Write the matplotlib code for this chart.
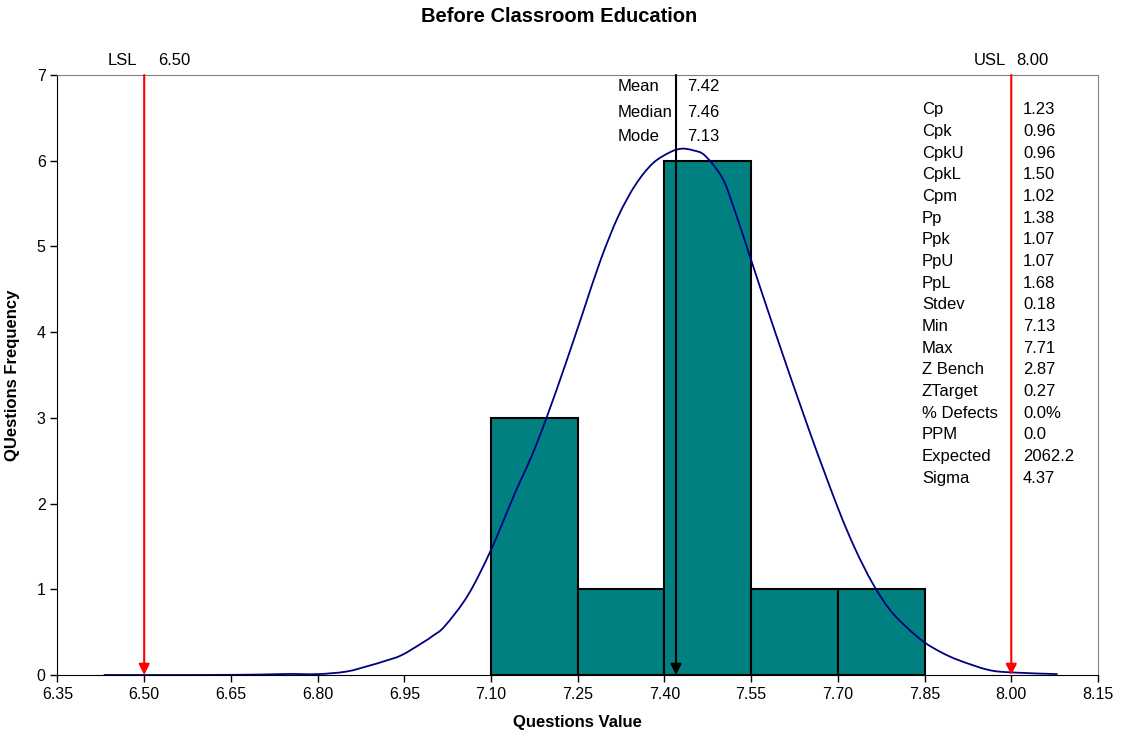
import matplotlib
matplotlib.use('Agg')
import matplotlib.pyplot as plt
from matplotlib.path import Path
from matplotlib.patches import PathPatch
import numpy as np

plt.rcParams['font.family'] = ['Liberation Sans', 'DejaVu Sans']

# histogram bins and counts
binEdges = [7.10, 7.25, 7.40, 7.55, 7.70, 7.85]
binCounts = [3, 1, 6, 1, 1]

# fitted curve
curveX = [6.43, 6.60, 6.70, 6.75, 6.80, 6.85, 6.89, 6.915, 6.945, 6.98, 7.00, 7.02,
          7.06, 7.10, 7.14, 7.17, 7.196, 7.23, 7.26, 7.29, 7.32, 7.35, 7.38, 7.41,
          7.43, 7.45, 7.47, 7.50, 7.52, 7.55, 7.59, 7.65, 7.70, 7.73, 7.76, 7.79,
          7.82, 7.85, 7.88, 7.91, 7.96, 8.00, 8.08]
curveY = [0.0, 0.0, 0.005, 0.012, 0.01, 0.04, 0.11, 0.16, 0.23, 0.37, 0.46, 0.57,
          0.93, 1.46, 2.1, 2.55, 3.0, 3.65, 4.25, 4.85, 5.35, 5.72, 5.97, 6.10,
          6.14, 6.12, 6.06, 5.80, 5.45, 4.84, 4.03, 2.86, 1.95, 1.47, 1.07, 0.76,
          0.55, 0.38, 0.26, 0.17, 0.06, 0.03, 0.01]

lsl = 6.50
usl = 8.00
mean = 7.42

centerNames = ['Mean', 'Median', 'Mode']
centerValues = ['7.42', '7.46', '7.13']

statNames = ['Cp', 'Cpk', 'CpkU', 'CpkL', 'Cpm', 'Pp', 'Ppk', 'PpU', 'PpL', 'Stdev',
             'Min', 'Max', 'Z Bench', 'ZTarget', '% Defects', 'PPM', 'Expected', 'Sigma']
statValues = ['1.23', '0.96', '0.96', '1.50', '1.02', '1.38', '1.07', '1.07', '1.68', '0.18',
              '7.13', '7.71', '2.87', '0.27', '0.0%', '0.0', '2062.2', '4.37']

xTicks = [6.35, 6.50, 6.65, 6.80, 6.95, 7.10, 7.25, 7.40, 7.55, 7.70, 7.85, 8.00, 8.15]


def smoothPath(xs, ys):
    # Excel style smoothed line: catmull-rom segments as cubic bezier
    pts = list(zip(xs, ys))
    verts = [pts[0]]
    codes = [Path.MOVETO]
    n = len(pts)
    for i in range(n - 1):
        p0 = pts[max(i - 1, 0)]
        p1 = pts[i]
        p2 = pts[i + 1]
        p3 = pts[min(i + 2, n - 1)]
        c1 = (p1[0] + (p2[0] - p0[0]) / 6.0, p1[1] + (p2[1] - p0[1]) / 6.0)
        c2 = (p2[0] - (p3[0] - p1[0]) / 6.0, p2[1] - (p3[1] - p1[1]) / 6.0)
        verts += [c1, c2, p2]
        codes += [Path.CURVE4] * 3
    return Path(verts, codes)


fig = plt.figure(figsize=(11.25, 7.38), dpi=100)
ax = fig.add_axes([0.0511, 0.0854, 0.9249, 0.813])

widths = np.diff(binEdges)
ax.bar(binEdges[:-1], binCounts, width=widths, align='edge', color='#008080',
       edgecolor='black', linewidth=1.5, zorder=2)
ax.add_patch(PathPatch(smoothPath(curveX, curveY), facecolor='none',
                       edgecolor='#000080', linewidth=1.3, zorder=3))

# spec limits and mean arrows
for xv, col in [(lsl, 'red'), (usl, 'red'), (mean, 'black')]:
    ax.annotate('', xy=(xv, 0), xytext=(xv, 7),
                arrowprops=dict(arrowstyle='-|>', color=col, lw=1.5,
                                shrinkA=0, shrinkB=0, mutation_scale=16),
                zorder=4)

ax.set_xlim(6.35, 8.15)
ax.set_ylim(0, 7)
ax.set_xticks(xTicks)
ax.set_xticklabels(['%.2f' % t for t in xTicks])
ax.set_yticks(range(8))
ax.tick_params(labelsize=11.5, length=5, width=1)

for side in ['top', 'right']:
    ax.spines[side].set_color('#808080')
ax.spines['left'].set_color('black')
ax.spines['bottom'].set_color('black')

ax.set_xlabel('Questions Value', fontsize=12, fontweight='bold')
ax.xaxis.set_label_coords(0.5, -0.066)
ax.set_ylabel('QUestions Frequency', fontsize=12, fontweight='bold')
ax.yaxis.set_label_coords(-0.036, 0.5)
fig.text(0.497, 0.977, 'Before Classroom Education', fontsize=14.5, fontweight='bold',
         ha='center', va='center')

# limit labels above the plot
tf = ax.transAxes
fs = 12
ax.text(0.0485, 1.024, 'LSL', fontsize=fs, transform=tf, va='center')
ax.text(0.0966, 1.024, '6.50', fontsize=fs, transform=tf, va='center')
ax.text(0.8808, 1.024, 'USL', fontsize=fs, transform=tf, va='center')
ax.text(0.9212, 1.024, '8.00', fontsize=fs, transform=tf, va='center')

for i in range(len(centerNames)):
    yy = [0.98, 0.937, 0.897][i]
    ax.text(0.5387, yy, centerNames[i], fontsize=fs, transform=tf, va='center')
    ax.text(0.605, yy, centerValues[i], fontsize=fs, transform=tf, va='center')

for i in range(len(statNames)):
    yy = 0.9417 - i * 0.0361
    ax.text(0.8308, yy, statNames[i], fontsize=fs, transform=tf, va='center')
    ax.text(0.928, yy, statValues[i], fontsize=fs, transform=tf, va='center')

fig.savefig('out.png', dpi=100)
